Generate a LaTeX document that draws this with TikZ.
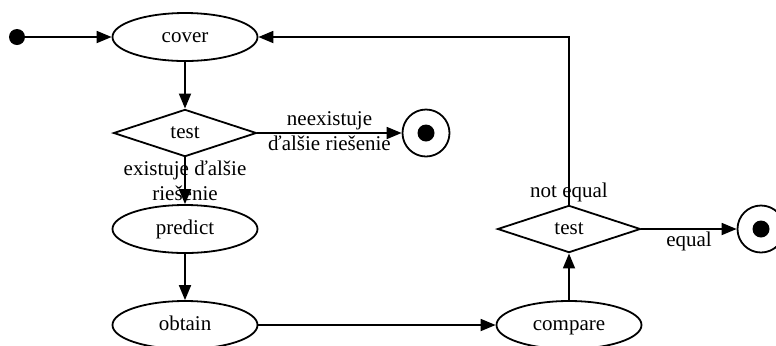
\documentclass[tikz,border=0pt]{standalone}
\usepackage{fontspec}
\setmainfont{Liberation Serif}
\usetikzlibrary{shapes.geometric,arrows.meta}
\begin{document}
\begin{tikzpicture}[x=0.5pt,y=-0.5pt,
  every node/.style={font=\fontsize{10.5}{12.5}\selectfont},
  line/.style={line width=0.9pt},
  arr/.style={line width=0.9pt,-{Triangle[length=7.5pt,width=6pt]}},
  state/.style={ellipse,draw,line width=0.9pt,minimum width=72.5pt,minimum height=24pt,inner sep=0pt,text height=7pt,text depth=2pt},
  choice/.style={diamond,draw,line width=0.9pt,minimum width=71.5pt,minimum height=23.5pt,inner sep=0pt,text height=7pt,text depth=2pt},
  startdot/.style={circle,fill=black,minimum size=8pt,inner sep=0pt},
  endring/.style={circle,draw,line width=0.9pt,minimum size=23.5pt,inner sep=0pt},
  enddot/.style={circle,fill=black,minimum size=8.5pt,inner sep=0pt},
  lbl/.style={inner sep=1pt}]
\useasboundingbox (0,0) rectangle (776,345);
\node[startdot] (start) at (17,37) {};
\node[state] (cover) at (185,37) {cover};
\node[choice] (test1) at (185,133) {test};
\node[endring] (end1) at (426,133) {};
\node[enddot] (end1dot) at (426,133) {};
\node[state] (predict) at (185,229) {predict};
\node[state] (obtain) at (185,325) {obtain};
\node[state] (compare) at (569,325) {compare};
\node[choice] (test2) at (569,229) {test};
\node[endring] (end2) at (761,229) {};
\node[enddot] (end2dot) at (761,229) {};

\draw[arr] (start) -- (cover);
\draw[arr] (cover) -- (test1);
\draw[arr] (test1) -- node[lbl,above] {neexistuje} node[lbl,below] {ďalšie riešenie} (end1);
\draw[arr] (test1) -- node[align=center,inner sep=0pt] {existuje ďalšie\\riešenie} (predict);
\draw[arr] (predict) -- (obtain);
\draw[arr] (obtain) -- (compare);
\draw[arr] (compare) -- (test2);
\draw[arr] (test2) -- node[lbl,below] {equal} (end2);
\draw[arr] (test2.north) |- (cover.east);
\node[lbl,above] (ne) at (test2.north) {not equal};
\end{tikzpicture}
\end{document}
